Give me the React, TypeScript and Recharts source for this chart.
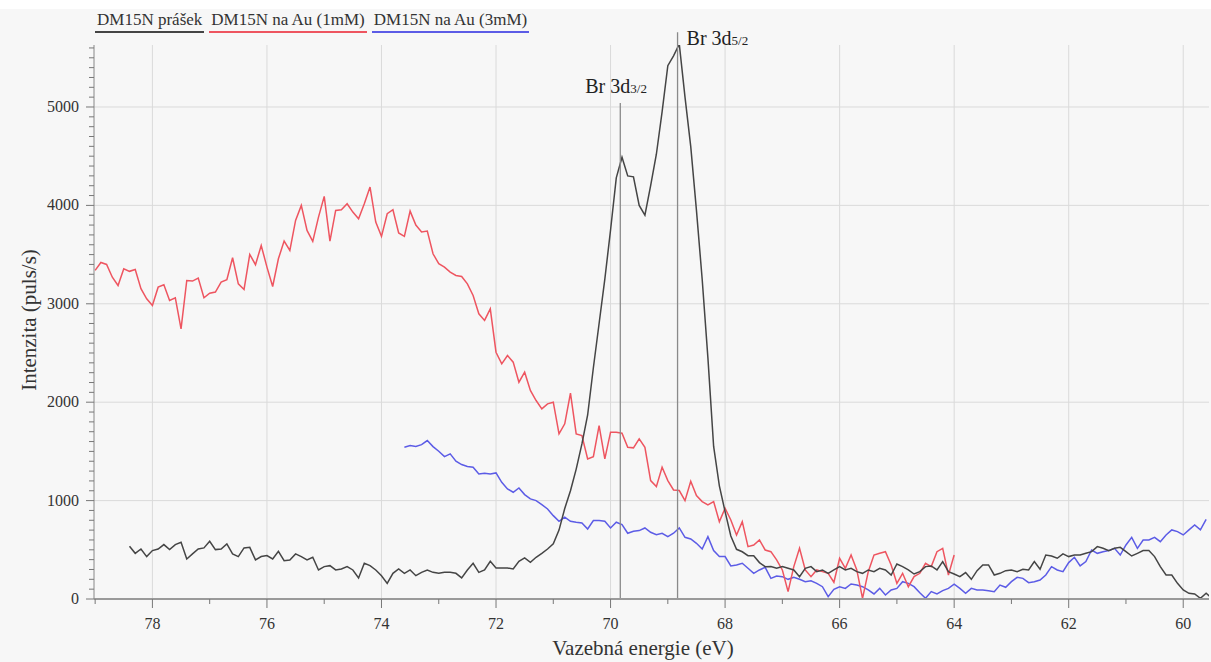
import React from 'react';
import { LineChart, Line, XAxis, YAxis, ReferenceLine, Label } from 'recharts';

// Binding energy grid (eV), 0.1 eV step, as recorded
const energies = [
  79.0, 78.9, 78.8, 78.7, 78.6, 78.5, 78.4, 78.3, 78.2, 78.1,
  78.0, 77.9, 77.8, 77.7, 77.6, 77.5, 77.4, 77.3, 77.2, 77.1,
  77.0, 76.9, 76.8, 76.7, 76.6, 76.5, 76.4, 76.3, 76.2, 76.1,
  76.0, 75.9, 75.8, 75.7, 75.6, 75.5, 75.4, 75.3, 75.2, 75.1,
  75.0, 74.9, 74.8, 74.7, 74.6, 74.5, 74.4, 74.3, 74.2, 74.1,
  74.0, 73.9, 73.8, 73.7, 73.6, 73.5, 73.4, 73.3, 73.2, 73.1,
  73.0, 72.9, 72.8, 72.7, 72.6, 72.5, 72.4, 72.3, 72.2, 72.1,
  72.0, 71.9, 71.8, 71.7, 71.6, 71.5, 71.4, 71.3, 71.2, 71.1,
  71.0, 70.9, 70.8, 70.7, 70.6, 70.5, 70.4, 70.3, 70.2, 70.1,
  70.0, 69.9, 69.8, 69.7, 69.6, 69.5, 69.4, 69.3, 69.2, 69.1,
  69.0, 68.9, 68.8, 68.7, 68.6, 68.5, 68.4, 68.3, 68.2, 68.1,
  68.0, 67.9, 67.8, 67.7, 67.6, 67.5, 67.4, 67.3, 67.2, 67.1,
  67.0, 66.9, 66.8, 66.7, 66.6, 66.5, 66.4, 66.3, 66.2, 66.1,
  66.0, 65.9, 65.8, 65.7, 65.6, 65.5, 65.4, 65.3, 65.2, 65.1,
  65.0, 64.9, 64.8, 64.7, 64.6, 64.5, 64.4, 64.3, 64.2, 64.1,
  64.0, 63.9, 63.8, 63.7, 63.6, 63.5, 63.4, 63.3, 63.2, 63.1,
  63.0, 62.9, 62.8, 62.7, 62.6, 62.5, 62.4, 62.3, 62.2, 62.1,
  62.0, 61.9, 61.8, 61.7, 61.6, 61.5, 61.4, 61.3, 61.2, 61.1,
  61.0, 60.9, 60.8, 60.7, 60.6, 60.5, 60.4, 60.3, 60.2, 60.1,
  60.0, 59.9, 59.8, 59.7, 59.6, 59.5,
];

// DM15N prášek (starts at 78.4 eV)
const prasekStart = 78.4;
const prasekValues = [
  536, 464, 508, 431,
  492, 508, 553, 502, 553, 576, 407, 458, 508, 519,
  586, 502, 508, 559, 458, 431, 519, 525, 397, 431,
  441, 407, 485, 390, 397, 458, 431, 397, 424, 295,
  329, 339, 295, 305, 329, 295, 214, 363, 339, 295,
  237, 159, 261, 305, 261, 295, 237, 271, 295, 271,
  261, 271, 271, 261, 214, 295, 363, 271, 295, 383,
  315, 315, 315, 305, 383, 417, 373, 424, 464, 508,
  560, 700, 920, 1100, 1320, 1576, 1870, 2350, 2800, 3250,
  3750, 4280, 4490, 4300, 4290, 4000, 3900, 4200, 4520, 4950,
  5420, 5520, 5640, 5100, 4600, 3950, 3250, 2450, 1550, 1150,
  888, 640, 505, 480, 440, 440, 370, 329, 330, 312,
  329, 312, 295, 227, 312, 329, 278, 295, 261, 295,
  329, 295, 312, 278, 261, 295, 278, 312, 295, 244,
  356, 329, 295, 254, 278, 329, 336, 295, 380, 278,
  254, 227, 268, 200, 288, 346, 346, 244, 261, 288,
  295, 278, 302, 295, 380, 302, 447, 437, 414, 458,
  431, 447, 447, 464, 481, 532, 515, 492, 515, 525,
  481, 437, 464, 492, 492, 431, 329, 244, 244, 159,
  92, 58, 51, 7, 58, 7,
];

// DM15N na Au (1mM) (starts at 79.0 eV)
const au1Start = 79.0;
const au1Values = [
  3340, 3420, 3400, 3270, 3186, 3356, 3330, 3349, 3153, 3051,
  2983, 3169, 3193, 3034, 3061, 2746, 3237, 3231, 3261, 3061,
  3108, 3119, 3220, 3244, 3468, 3203, 3146, 3502, 3397, 3593,
  3373, 3176, 3458, 3637, 3542, 3847, 4000, 3746, 3634, 3881,
  4092, 3637, 3949, 3956, 4017, 3932, 3864, 4017, 4186, 3831,
  3685, 3915, 3956, 3720, 3685, 3942, 3800, 3730, 3739, 3508,
  3407, 3373, 3322, 3288, 3278, 3203, 3085, 2898, 2831, 2949,
  2508, 2390, 2475, 2407, 2203, 2305, 2119, 2017, 1932, 1983,
  2000, 1678, 1780, 2092, 1678, 1661, 1424, 1447, 1763, 1424,
  1695, 1695, 1685, 1542, 1536, 1627, 1542, 1203, 1142, 1339,
  1203, 1108, 1102, 1000, 1197, 1051, 990, 956, 990, 786,
  922, 803, 651, 786, 532, 549, 600, 498, 481, 397,
  295, 75, 329, 515, 295, 227, 295, 278, 261, 170,
  414, 312, 447, 295, 7, 278, 447, 464, 481, 346,
  159, 261, 125, 227, 261, 363, 329, 481, 515, 244,
  447,
];

// DM15N na Au (3mM) (starts at 73.6 eV)
const au3Start = 73.6;
const au3Values = [
  1542, 1559, 1549, 1569, 1610, 1549,
  1502, 1447, 1475, 1400, 1366, 1346, 1339, 1271, 1278, 1271,
  1281, 1186, 1119, 1085, 1129, 1061, 1017, 1000, 959, 915,
  847, 790, 831, 790, 780, 773, 712, 797, 797, 790,
  722, 780, 756, 668, 688, 695, 722, 678, 654, 668,
  634, 668, 722, 627, 610, 566, 508, 634, 492, 431,
  431, 336, 346, 363, 312, 261, 295, 322, 210, 234,
  227, 200, 220, 200, 176, 186, 159, 125, 24, 98,
  125, 108, 153, 142, 125, 92, 51, 108, 41, 92,
  108, 176, 159, 125, 64, 7, 75, 51, 85, 108,
  150, 108, 58, 108, 92, 92, 85, 75, 142, 119,
  176, 220, 210, 166, 176, 193, 244, 329, 295, 278,
  370, 424, 336, 380, 498, 464, 481, 492, 515, 447,
  549, 627, 515, 600, 600, 627, 583, 651, 702, 685,
  651, 702, 753, 702, 810,
];

const seriesNames = ['DM15N prášek', 'DM15N na Au (1mM)', 'DM15N na Au (3mM)'];
const seriesColors = ['#454545', '#ee5560', '#5c5ce6'];

const xTicks = [79, 78, 77, 76, 75, 74, 73, 72, 71, 70, 69, 68, 67, 66, 65, 64, 63, 62, 61, 60];
const xLabelTicks = [78, 76, 74, 72, 70, 68, 66, 64, 62, 60];
const yLabelTicks = [0, 1000, 2000, 3000, 4000, 5000];
const yMinorStep = 100;
const yTicks = Array.from({ length: 57 }, (_, i) => i * yMinorStep);
const yGrid = [1000, 2000, 3000, 4000, 5000];

const peaks = [
  { name: 'Br 3d', sub: '3/2', energy: 69.83, top: 5040, dx: -35, dy: -10 },
  { name: 'Br 3d', sub: '5/2', energy: 68.83, top: 5760, dx: 9, dy: 13 },
];

const FONT = '"Liberation Serif", "Times New Roman", serif';

const toSeries = (start: number, values: number[]) => {
  const i0 = energies.findIndex((e) => Math.abs(e - start) < 1e-6);
  return values.map((v, i) => ({ e: energies[i0 + i], v }));
};

const prasekData = toSeries(prasekStart, prasekValues);
const au1Data = toSeries(au1Start, au1Values);
const au3Data = toSeries(au3Start, au3Values);

const YTick = (props: any) => {
  const { x, y, payload } = props;
  const v = payload.value;
  const major = yLabelTicks.includes(v);
  return (
    <g>
      <line x1={x - (major ? 8 : 5)} x2={x} y1={y} y2={y} stroke="#777" strokeWidth={1} />
      {major && (
        <text x={x - 15} y={y} dy={5} textAnchor="end" fontSize={16} fill="#333" fontFamily={FONT}>
          {v}
        </text>
      )}
    </g>
  );
};

const XTick = (props: any) => {
  const { x, y, payload } = props;
  const v = payload.value;
  const major = xLabelTicks.includes(v);
  return (
    <g>
      <line x1={x} x2={x} y1={y} y2={y + (major ? 9 : 5)} stroke="#777" strokeWidth={1} />
      {major && (
        <text x={x} y={y + 30} textAnchor="middle" fontSize={16} fill="#333" fontFamily={FONT}>
          {v}
        </text>
      )}
    </g>
  );
};

const PeakLabel = (props: any) => {
  const { viewBox, name, sub, dx, dy } = props;
  return (
    <text x={viewBox.x + dx} y={viewBox.y + dy} fill="#222" fontFamily={FONT}>
      <tspan fontSize={20}>{name}</tspan>
      <tspan fontSize={13}>{sub}</tspan>
    </text>
  );
};

const XTitle = () => (
  <text x={643} y={655} textAnchor="middle" fontSize={21} fill="#333" fontFamily={FONT}>
    Vazebná energie (eV)
  </text>
);

const YTitle = () => (
  <text
    x={31}
    y={320}
    transform="rotate(-90 31 320)"
    textAnchor="middle"
    dominantBaseline="middle"
    fontSize={21}
    fill="#333"
    fontFamily={FONT}
  >
    Intenzita (puls/s)
  </text>
);

export default function App() {
  return (
    <div
      style={{
        position: 'absolute',
        left: 0,
        top: 0,
        width: 1211,
        height: 662,
        background: '#f7f7f7',
        overflow: 'hidden',
      }}
    >
      <div style={{ position: 'absolute', left: 0, top: 0, width: 1211, height: 9, background: '#fff' }} />
      <LineChart
        width={1211}
        height={662}
        margin={{ top: 45, right: 2, left: 0, bottom: 62 }}
        style={{ fontFamily: FONT }}
      >
        <XAxis
          type="number"
          dataKey="e"
          domain={[59.55, 79.02]}
          reversed
          allowDataOverflow
          ticks={xTicks}
          interval={0}
          height={1}
          tickSize={0}
          tickMargin={0}
          tick={<XTick />}
          axisLine={{ stroke: '#9a9a9a', strokeWidth: 2 }}
          tickLine={false}
        >
          <Label content={<XTitle />} />
        </XAxis>
        <YAxis
          type="number"
          domain={[0, 5630]}
          allowDataOverflow
          ticks={yTicks}
          interval={0}
          width={94}
          tickSize={0}
          tickMargin={0}
          tick={<YTick />}
          axisLine={{ stroke: '#888', strokeWidth: 1 }}
          tickLine={false}
        >
          <Label content={<YTitle />} />
        </YAxis>
        {yGrid.map((v) => (
          <ReferenceLine key={'gy' + v} y={v} stroke="#dadada" strokeWidth={1} />
        ))}
        {xLabelTicks.map((v) => (
          <ReferenceLine key={'gx' + v} x={v} stroke="#dadada" strokeWidth={1} />
        ))}
        <Line
          data={au3Data}
          dataKey="v"
          name={seriesNames[2]}
          type="linear"
          stroke={seriesColors[2]}
          strokeWidth={1.5}
          dot={false}
          activeDot={false}
          isAnimationActive={false}
        />
        <Line
          data={au1Data}
          dataKey="v"
          name={seriesNames[1]}
          type="linear"
          stroke={seriesColors[1]}
          strokeWidth={1.5}
          dot={false}
          activeDot={false}
          isAnimationActive={false}
        />
        <Line
          data={prasekData}
          dataKey="v"
          name={seriesNames[0]}
          type="linear"
          stroke={seriesColors[0]}
          strokeWidth={1.5}
          dot={false}
          activeDot={false}
          isAnimationActive={false}
        />
        {peaks.map((p) => (
          <ReferenceLine
            key={p.sub}
            segment={[
              { x: p.energy, y: 0 },
              { x: p.energy, y: p.top },
            ]}
            ifOverflow="visible"
            stroke="#8a8a8a"
            strokeWidth={1.3}
            label={<PeakLabel name={p.name} sub={p.sub} dx={p.dx} dy={p.dy} />}
          />
        ))}
      </LineChart>
      <div
        style={{
          position: 'absolute',
          left: 95,
          top: 11,
          display: 'flex',
          gap: 5,
          fontFamily: FONT,
          fontSize: 17,
          lineHeight: '18px',
          color: '#333',
        }}
      >
        {seriesNames.map((n, i) => (
          <span
            key={n}
            style={{ borderBottom: `2px solid ${seriesColors[i]}`, padding: '0 2px 2px 2px', whiteSpace: 'nowrap' }}
          >
            {n}
          </span>
        ))}
      </div>
    </div>
  );
}
